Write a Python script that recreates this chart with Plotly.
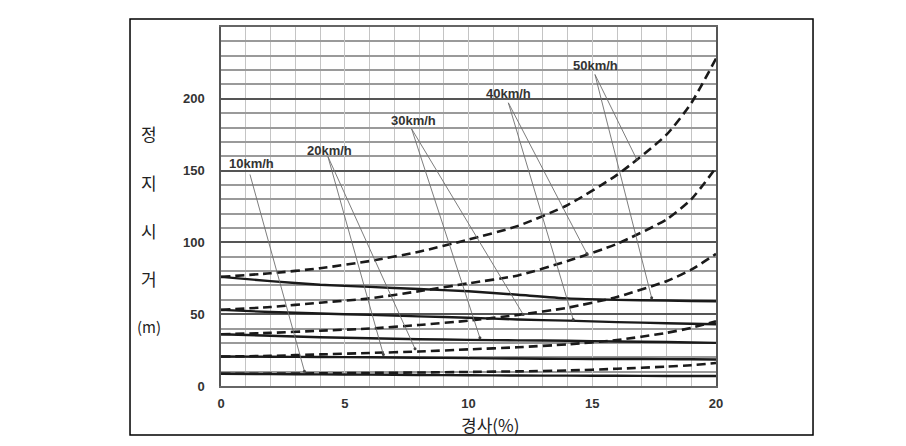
import plotly.graph_objects as go

# ---------------- data ----------------
grade = [0, 2, 4, 6, 8, 10, 12, 14, 16, 18, 19, 20]

# downhill (dashed) stopping sight distance, m
down50 = [76, 78.5, 82, 87, 93.5, 102, 111.5, 126, 147, 175, 197, 228]
down40 = [53, 55, 58, 61, 66, 71.5, 77, 87, 99, 116, 130, 152]
down30 = [36, 37, 38.5, 40, 42.5, 45.5, 49.5, 54.5, 62, 73, 81, 92]
down20 = [20.5, 21, 22, 23, 24, 25.5, 27, 29, 32, 37, 40.5, 45]
down10 = [8.5, 8.6, 8.8, 9.1, 9.4, 9.8, 10.2, 10.8, 12, 13.5, 14.5, 16]

# uphill (solid) stopping sight distance, m
up50 = [76, 73, 70.5, 69, 67.5, 66, 63.5, 61, 60, 59.5, 59.2, 59]
up40 = [53, 51.5, 50.5, 49.5, 48.5, 47.5, 46.3, 45.5, 44.5, 43.7, 43.3, 43]
up30 = [36, 35, 34, 33.2, 32.6, 32.1, 31.8, 31.5, 31, 30.6, 30.3, 30]
up20 = [20.5, 20.4, 20.2, 20, 19.7, 19.4, 19.1, 18.9, 18.8, 18.7, 18.6, 18.5]
up10 = [8.5, 8.3, 8.1, 7.9, 7.7, 7.5, 7.3, 7.2, 7.1, 7.0, 7.0, 7.0]

x_ticks = [0, 5, 10, 15, 20]
y_ticks = [0, 50, 100, 150, 200]

# speed labels and their leader lines (data coordinates)
label_text = ["10km/h", "20km/h", "30km/h", "40km/h", "50km/h"]
label_x = [1.25, 4.4, 7.76, 11.6, 15.15]
label_y = [155, 164, 185, 204, 223]
leader_start_x = [1.17, 4.32, 7.7, 11.61, 15.11]
leader_start_y = [147.3, 159.8, 179.1, 197.2, 216.9]
leader_end_x = [[3.37], [6.56, 7.84], [10.46, 12.21], [14.23, 14.78], [16.8, 17.4]]
leader_end_y = [[10.3], [21.9, 25.9], [33.6, 49.8], [46.3, 92.3], [157.7, 61.4]]

y_title_chars = ["정", "지", "시", "거", "(m)"]
x_title = "경사(%)"

# ---------------- figure ----------------
fig = go.Figure()

curve_color = "#1a1a1a"
for ys in [down10, down20, down30, down40, down50]:
    fig.add_trace(go.Scatter(x=grade, y=ys, mode="lines",
                             line=dict(color=curve_color, width=2.6, dash="9px,5px", shape="spline", smoothing=0.6),
                             hoverinfo="skip"))
for ys in [up10, up20, up30, up40, up50]:
    fig.add_trace(go.Scatter(x=grade, y=ys, mode="lines",
                             line=dict(color=curve_color, width=2.4, shape="spline", smoothing=0.6),
                             hoverinfo="skip"))

# leader lines
for i in range(len(label_text)):
    for ex, ey in zip(leader_end_x[i], leader_end_y[i]):
        fig.add_trace(go.Scatter(x=[leader_start_x[i], ex], y=[leader_start_y[i], ey],
                                 mode="lines", line=dict(color="#6e6e6e", width=0.9),
                                 hoverinfo="skip"))
        fig.add_trace(go.Scatter(x=[ex], y=[ey], mode="markers",
                                 marker=dict(color="#444", size=3),
                                 hoverinfo="skip"))

# speed labels
for t, lx, ly in zip(label_text, label_x, label_y):
    fig.add_annotation(x=lx, y=ly, xref="x", yref="y", text=t, showarrow=False,
                       font=dict(family="Liberation Sans, Arial", size=13, color="#333", weight="bold"))

# y axis title (stacked characters)
y_title_pos = [0.702, 0.567, 0.4345, 0.3008, 0.1671]
for ch, yp in zip(y_title_chars, y_title_pos):
    fig.add_annotation(x=-0.1455, y=yp, xref="paper", yref="paper", text=ch, showarrow=False,
                       xanchor="center", yanchor="middle",
                       font=dict(family="Noto Sans CJK KR", size=17 if ch != "(m)" else 15, color="#222"))

fig.add_annotation(x=0.5434, y=-0.106, xref="paper", yref="paper", text=x_title, showarrow=False,
                   xanchor="center", yanchor="middle",
                   font=dict(family="Noto Sans CJK KR", size=17, color="#222"))

# outer frame
fig.add_shape(type="rect", xref="paper", yref="paper", x0=-0.1838, x1=1.196, y0=-0.1365, y1=1.0223,
              line=dict(color="black", width=1.5), layer="above")

tickfont = dict(family="Liberation Sans, Arial", size=13, color="#333", weight="bold")

fig.update_layout(
    width=906, height=446,
    margin=dict(l=221, r=190, t=27, b=60),
    plot_bgcolor="white", paper_bgcolor="white",
    showlegend=False,
    xaxis=dict(range=[0, 20], tickvals=x_ticks, showgrid=True, gridcolor="#c4c4c4", gridwidth=1,
               minor=dict(dtick=1, tick0=0, showgrid=True, gridcolor="#c4c4c4", gridwidth=1),
               showline=True, linecolor="#666", linewidth=1.5, mirror=True, zeroline=False,
               ticks="", tickfont=tickfont, ticklabelstandoff=5, fixedrange=True),
    yaxis=dict(range=[0, 250], tickvals=y_ticks, showgrid=True, gridcolor="#555", gridwidth=1.5,
               minor=dict(dtick=10, tick0=0, showgrid=True, gridcolor="#9a9a9a", gridwidth=1.5),
               showline=True, linecolor="#555", linewidth=1.5, mirror=True, zeroline=False,
               ticks="", tickfont=tickfont, ticklabelstandoff=12, fixedrange=True),
)

fig.write_html("out.html")
